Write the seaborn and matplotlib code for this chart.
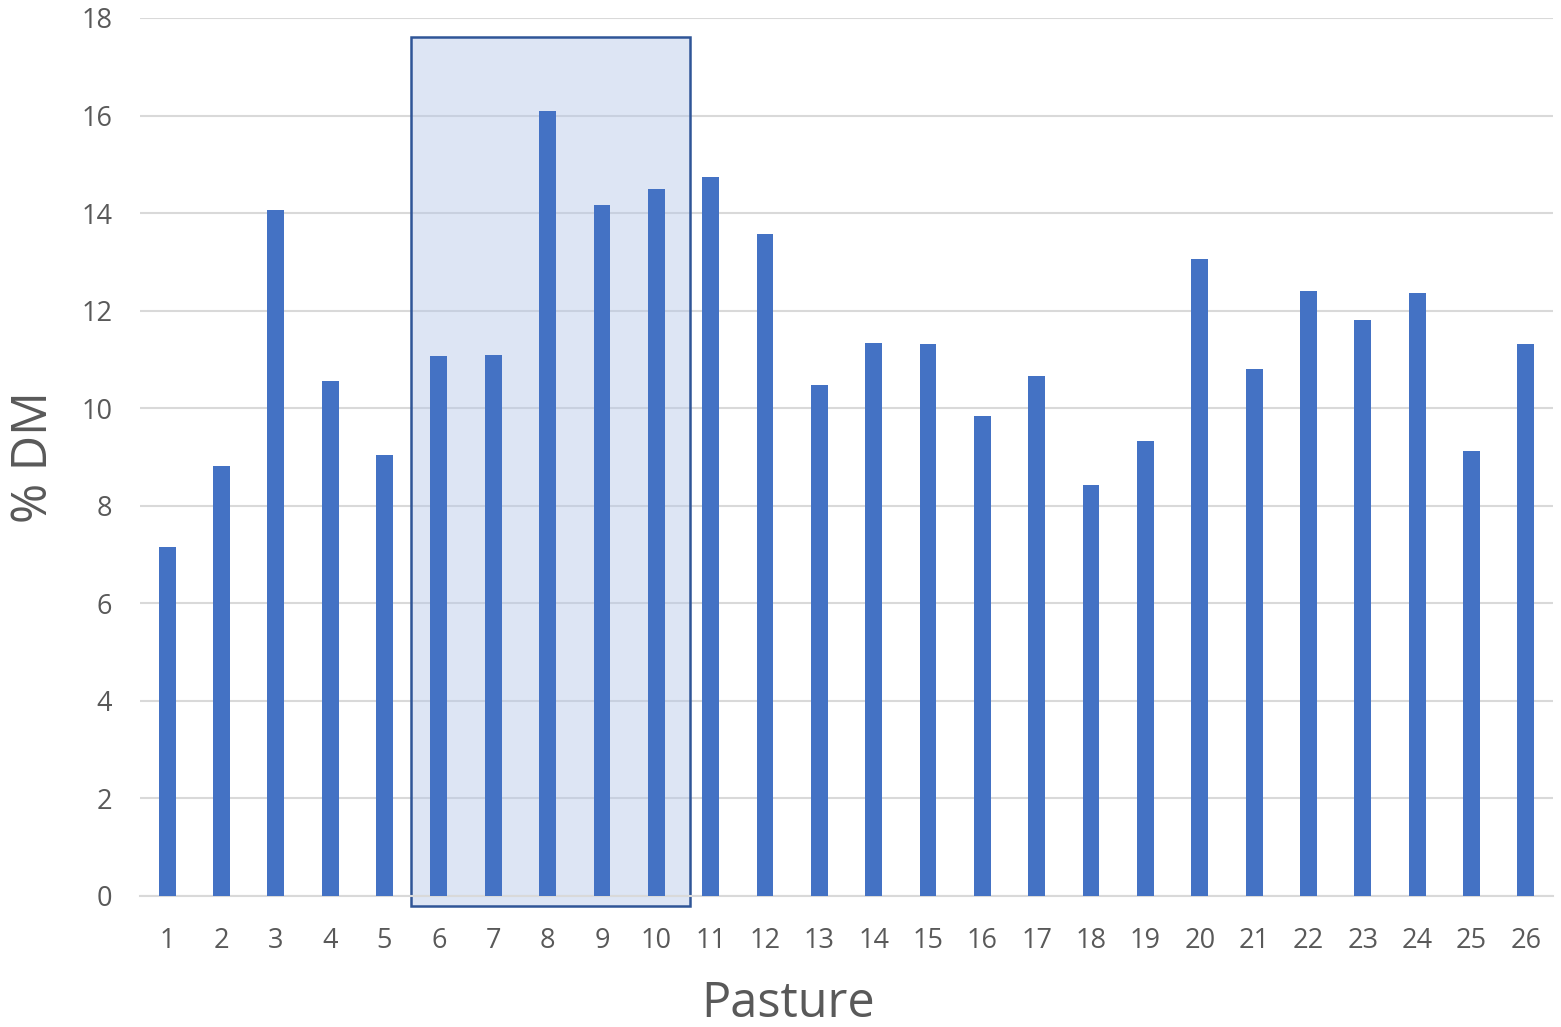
import matplotlib
matplotlib.use("Agg")
import matplotlib.pyplot as plt
import matplotlib.patches as mpatches
import seaborn as sns
import pandas as pd

pastures = [str(i) for i in range(1, 27)]
dm_percent = [7.15, 8.81, 14.06, 10.56, 9.04, 11.07, 11.09, 16.09, 14.17, 14.49,
              14.74, 13.57, 10.48, 11.34, 11.32, 9.84, 10.66, 8.43, 9.33, 13.06,
              10.80, 12.40, 11.81, 12.36, 9.12, 11.32]
y_ticks = [0, 2, 4, 6, 8, 10, 12, 14, 16, 18]

df = pd.DataFrame({"Pasture": pastures, "DM": dm_percent})

sns.set_theme(style="white")
plt.rcParams["font.family"] = ["Open Sans", "DejaVu Sans"]

fig = plt.figure(figsize=(15.61, 10.27), dpi=100)
ax = fig.add_axes([140 / 1561, 131 / 1027, 1413 / 1561, 878 / 1027])

sns.barplot(data=df, x="Pasture", y="DM", color="#4472C4", width=0.31,
            saturation=1, linewidth=0, edgecolor="none", ax=ax, zorder=3)

# highlight box around pastures 6-10
box = mpatches.Rectangle((4.485, -0.2), 5.14, 17.81,
                         facecolor=(0.706, 0.780, 0.906, 0.45),
                         edgecolor="#2F5597", linewidth=1.8,
                         zorder=2, clip_on=False)
ax.add_patch(box)

ax.set_ylim(0, 18)
ax.set_xlim(-0.5, 25.5)
ax.set_yticks(y_ticks)
ax.yaxis.grid(True, color="#D9D9D9", linewidth=1.5, zorder=0)
ax.set_axisbelow(True)
for side in ["left", "right", "top"]:
    ax.spines[side].set_visible(False)
ax.spines["bottom"].set_color("#D9D9D9")
ax.spines["bottom"].set_linewidth(1.5)

ax.tick_params(axis="both", length=0, labelsize=19.5, labelcolor="#595959")
ax.tick_params(axis="x", pad=22)
ax.tick_params(axis="y", pad=20)
ax.set_xlabel("Pasture", fontsize=35, color="#595959")
ax.set_ylabel("% DM", fontsize=35, color="#595959")
ax.xaxis.set_label_coords(0.4586, -0.095)
ax.yaxis.set_label_coords(-0.057, 0.5)

fig.savefig("out.png", dpi=100)
